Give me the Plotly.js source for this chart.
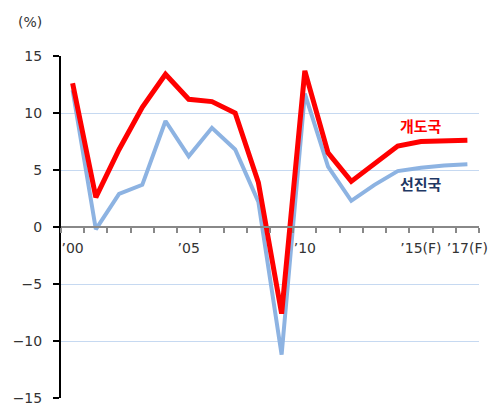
<!DOCTYPE html>
<html>
<head>
<meta charset="utf-8">
<script src="https://cdn.plot.ly/plotly-3.0.1.min.js"></script>
<style>html,body{margin:0;padding:0;background:#fff;}#chart{width:492px;height:407px;}</style>
</head>
<body>
<div id="chart"></div>
<script>
const years = ['2000','2001','2002','2003','2004','2005','2006','2007','2008','2009','2010','2011','2012','2013','2014','2015','2016','2017'];
const tickLabels = ['’00','','','','','’05','','','','','’10','','','','','’15(F)','','’17(F)'];
const developing = [12.6, 2.6, 6.8, 10.5, 13.4, 11.2, 11.0, 10.0, 3.9, -7.6, 13.7, 6.5, 4.0, 5.6, 7.1, 7.5, 7.6, 7.6];
const advanced = [12.0, -0.2, 2.9, 3.7, 9.3, 6.2, 8.7, 6.8, 2.2, -11.2, 11.7, 5.3, 2.3, 3.7, 4.9, 5.2, 5.4, 5.5];
const seriesNames = ['개도국', '선진국'];

const font = 'DejaVu Sans, Liberation Sans, Arial, sans-serif';
const kfont = 'Noto Sans CJK KR, sans-serif';
const data = [
  {x: years, y: advanced, type: 'scatter', mode: 'lines', name: seriesNames[1],
   line: {color: '#8db3e2', width: 4}},
  {x: years, y: developing, type: 'scatter', mode: 'lines', name: seriesNames[0],
   line: {color: '#ff0000', width: 5}}
];
const layout = {
  width: 492, height: 407,
  margin: {l: 61, r: 13, t: 56, b: 9},
  paper_bgcolor: '#fff', plot_bgcolor: '#fff',
  showlegend: false,
  font: {family: font, size: 14, color: '#333'},
  xaxis: {
    type: 'category', anchor: 'free', position: 0.5,
    tickvals: years, ticktext: tickLabels, tickangle: 0,
    tickson: 'boundaries', ticks: 'outside', ticklen: 5, tickwidth: 2, tickcolor: '#888',
    showline: true, linecolor: '#888', linewidth: 2,
    showgrid: false, zeroline: false,
    tickfont: {family: font, size: 14, color: '#333'},
    ticklabelstandoff: 8,
    range: [-0.5, 17.5]
  },
  yaxis: {
    range: [-15, 15], tickvals: [-15, -10, -5, 0, 5, 10, 15],
    ticks: 'outside', ticklen: 6, tickwidth: 2, tickcolor: '#000',
    showline: true, linecolor: '#000', linewidth: 2,
    showgrid: true, gridcolor: '#c6d9f1', gridwidth: 1,
    zeroline: false,
    tickfont: {family: font, size: 14, color: '#333'},
    ticklabelstandoff: 8
  },
  annotations: [
    {text: '(%)', xref: 'paper', yref: 'paper', x: -0.075, y: 1.099, xanchor: 'center', yanchor: 'middle',
     showarrow: false, font: {family: font, size: 14, color: '#333'}},
    {text: '<b>' + seriesNames[0] + '</b>', xref: 'x', yref: 'y', x: 15, y: 8.9, xanchor: 'center', yanchor: 'middle',
     showarrow: false, font: {family: kfont, size: 15, color: '#ff0000'}},
    {text: '<b>' + seriesNames[1] + '</b>', xref: 'x', yref: 'y', x: 15, y: 3.8, xanchor: 'center', yanchor: 'middle',
     showarrow: false, font: {family: kfont, size: 15, color: '#1f3864'}}
  ]
};
Plotly.newPlot('chart', data, layout, {displayModeBar: false, staticPlot: true});
</script>
</body>
</html>
